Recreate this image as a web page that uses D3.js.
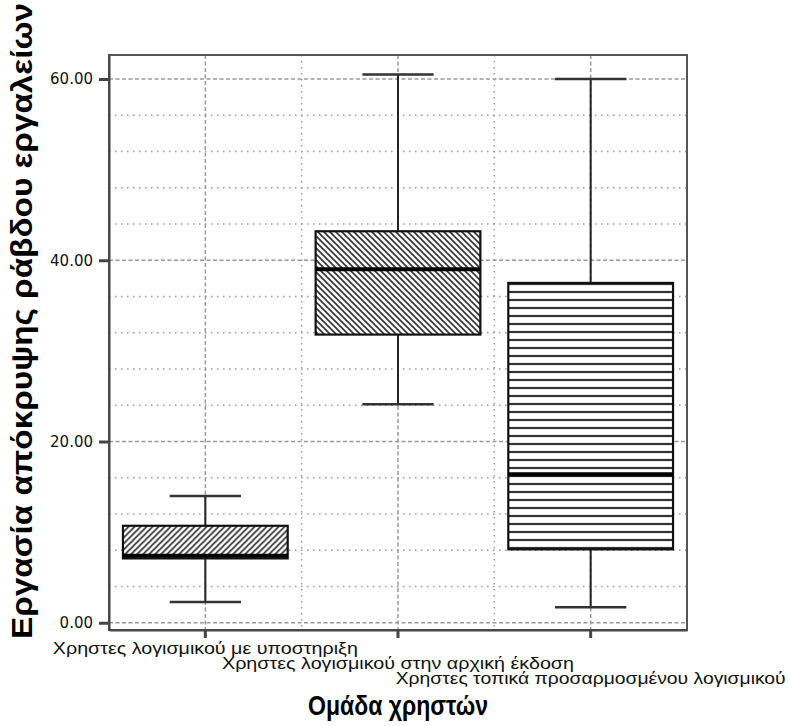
<!DOCTYPE html>
<html>
<head>
<meta charset="utf-8">
<script src="https://cdn.jsdelivr.net/npm/d3@7"></script>
<style>
  body { margin: 0; background: #fff; }
  svg { display: block; }
</style>
</head>
<body>
<svg id="chart" width="788" height="726"></svg>
<script>
// ---- data ----
const categories = [
  "Χρηστες λογισμικού με υποστηριξη",
  "Χρηστες λογισμικού στην αρχική έκδοση",
  "Χρηστες τοπικά προσαρμοσμένου λογισμικού"
];
const whiskerLow  = [2.3, 24.1, 1.7];
const q1          = [7.1, 31.8, 8.1];
const medians     = [7.4, 39.0, 16.4];
const q3          = [10.7, 43.2, 37.5];
const whiskerHigh = [14.0, 60.5, 60.0];
const hatches     = ["fwd", "back", "horiz"];
const yTicks      = [0, 20, 40, 60];
const yMinorTicks = [4, 8, 12, 16, 24, 28, 32, 36, 44, 48, 52, 56];
const yTitle = "Εργασία απόκρυψης ράβδου εργαλείων";
const xTitle = "Ομάδα χρηστών";

// ---- layout ----
const svg = d3.select("#chart");
const plot = { left: 109, right: 687, top: 55, bottom: 630 };

const x = d3.scaleBand().domain(categories).range([plot.left, plot.right]).paddingInner(0).paddingOuter(0);
const y = d3.scaleLinear().domain([-0.8, 62.65]).range([plot.bottom, plot.top]);

// patterns
const defs = svg.append("defs");
const pf = defs.append("pattern").attr("id", "fwd").attr("patternUnits", "userSpaceOnUse").attr("width", 6).attr("height", 6);
pf.append("rect").attr("width", 6).attr("height", 6).attr("fill", "#fff");
pf.append("path").attr("d", "M-1,7 L7,-1 M-2,2 L2,-2 M4,8 L8,4").attr("stroke", "#333").attr("stroke-width", 1.6);
const pb = defs.append("pattern").attr("id", "back").attr("patternUnits", "userSpaceOnUse").attr("width", 6).attr("height", 6);
pb.append("rect").attr("width", 6).attr("height", 6).attr("fill", "#fff");
pb.append("path").attr("d", "M-1,-1 L7,7 M-2,4 L2,8 M4,-2 L8,2").attr("stroke", "#333").attr("stroke-width", 1.6);
const ph = defs.append("pattern").attr("id", "horiz").attr("patternUnits", "userSpaceOnUse").attr("width", 8).attr("height", 8);
ph.append("rect").attr("width", 8).attr("height", 8).attr("fill", "#fff");
ph.append("line").attr("x1", 0).attr("x2", 8).attr("y1", 4).attr("y2", 4).attr("stroke", "#333").attr("stroke-width", 2.2);

// gridlines
const grid = svg.append("g");
grid.selectAll("line.hminor").data(yMinorTicks).join("line")
  .attr("x1", plot.left).attr("x2", plot.right)
  .attr("y1", d => y(d)).attr("y2", d => y(d))
  .attr("stroke", "#9a9a9a").attr("stroke-width", 1.5).attr("stroke-dasharray", "1.5,4.5");
grid.selectAll("line.hmajor").data(yTicks).join("line")
  .attr("x1", plot.left).attr("x2", plot.right)
  .attr("y1", d => y(d)).attr("y2", d => y(d))
  .attr("stroke", "#9a9a9a").attr("stroke-width", 1.5).attr("stroke-dasharray", "4,2.5");
grid.selectAll("line.vmajor").data(categories).join("line")
  .attr("x1", d => x(d) + x.bandwidth() / 2).attr("x2", d => x(d) + x.bandwidth() / 2)
  .attr("y1", plot.top).attr("y2", plot.bottom)
  .attr("stroke", "#9a9a9a").attr("stroke-width", 1.5).attr("stroke-dasharray", "4,2.5");
grid.selectAll("line.vminor").data(categories.slice(1)).join("line")
  .attr("x1", d => x(d)).attr("x2", d => x(d))
  .attr("y1", plot.top).attr("y2", plot.bottom)
  .attr("stroke", "#9a9a9a").attr("stroke-width", 1.5).attr("stroke-dasharray", "1.5,4.5");

// boxes
const boxW = x.bandwidth() * 0.855;
const capW = x.bandwidth() * 0.37;
const boxes = svg.append("g").selectAll("g").data(categories).join("g")
  .attr("transform", d => `translate(${x(d) + x.bandwidth() / 2},0)`);

boxes.append("line")
  .attr("x1", 0).attr("x2", 0)
  .attr("y1", (d, i) => y(whiskerLow[i])).attr("y2", (d, i) => y(q1[i]))
  .attr("stroke", "#222").attr("stroke-width", 2);
boxes.append("line")
  .attr("x1", 0).attr("x2", 0)
  .attr("y1", (d, i) => y(q3[i])).attr("y2", (d, i) => y(whiskerHigh[i]))
  .attr("stroke", "#222").attr("stroke-width", 2);
boxes.append("line")
  .attr("x1", -capW / 2).attr("x2", capW / 2)
  .attr("y1", (d, i) => y(whiskerLow[i])).attr("y2", (d, i) => y(whiskerLow[i]))
  .attr("stroke", "#333").attr("stroke-width", 2.5);
boxes.append("line")
  .attr("x1", -capW / 2).attr("x2", capW / 2)
  .attr("y1", (d, i) => y(whiskerHigh[i])).attr("y2", (d, i) => y(whiskerHigh[i]))
  .attr("stroke", "#333").attr("stroke-width", 2.5);
boxes.append("rect")
  .attr("x", -boxW / 2).attr("width", boxW)
  .attr("y", (d, i) => y(q3[i])).attr("height", (d, i) => y(q1[i]) - y(q3[i]))
  .attr("fill", (d, i) => `url(#${hatches[i]})`)
  .attr("stroke", "#111").attr("stroke-width", 2.2);
boxes.append("line")
  .attr("x1", -boxW / 2).attr("x2", boxW / 2)
  .attr("y1", (d, i) => y(medians[i])).attr("y2", (d, i) => y(medians[i]))
  .attr("stroke", "#000").attr("stroke-width", 4);

// frame
svg.append("rect")
  .attr("x", plot.left).attr("y", plot.top)
  .attr("width", plot.right - plot.left).attr("height", plot.bottom - plot.top)
  .attr("fill", "none").attr("stroke", "#555").attr("stroke-width", 2);

// y axis
const yAxis = svg.append("g").attr("transform", `translate(${plot.left},0)`)
  .call(d3.axisLeft(y).tickValues(yTicks).tickFormat(d3.format(".2f")).tickSize(10).tickSizeOuter(0).tickPadding(6));
yAxis.select(".domain").attr("stroke", "#444").attr("stroke-width", 2);
yAxis.selectAll(".tick line").attr("stroke", "#444").attr("stroke-width", 3);
yAxis.selectAll(".tick text").attr("font-family", "'DejaVu Sans', sans-serif")
  .attr("font-size", 15).attr("fill", "#111");

// x axis
const xAxis = svg.append("g").attr("transform", `translate(0,${plot.bottom})`)
  .call(d3.axisBottom(x).tickSize(8).tickSizeOuter(0).tickFormat(""));
xAxis.select(".domain").attr("stroke", "#444").attr("stroke-width", 2);
xAxis.selectAll(".tick line").attr("stroke", "#444").attr("stroke-width", 3);

const labelBase = [654, 669, 684];
const labelLen = [305, 352, 390];
svg.append("g").selectAll("text").data(categories).join("text")
  .attr("x", d => x(d) + x.bandwidth() / 2)
  .attr("y", (d, i) => labelBase[i])
  .attr("text-anchor", "middle")
  .attr("font-family", "'Liberation Sans', Arial, sans-serif")
  .attr("font-size", 16)
  .attr("fill", "#111")
  .attr("textLength", (d, i) => labelLen[i])
  .attr("lengthAdjust", "spacingAndGlyphs")
  .text(d => d);

// titles
svg.append("text")
  .attr("transform", `translate(32,321) rotate(-90)`)
  .attr("text-anchor", "middle")
  .attr("font-family", "'Liberation Sans', Arial, sans-serif")
  .attr("font-weight", "bold")
  .attr("font-size", 29)
  .attr("fill", "#000")
  .attr("textLength", 636)
  .attr("lengthAdjust", "spacingAndGlyphs")
  .text(yTitle);

svg.append("text")
  .attr("x", 398).attr("y", 715)
  .attr("text-anchor", "middle")
  .attr("font-family", "'Liberation Sans', Arial, sans-serif")
  .attr("font-weight", "bold")
  .attr("font-size", 27)
  .attr("fill", "#000")
  .attr("textLength", 180)
  .attr("lengthAdjust", "spacingAndGlyphs")
  .text(xTitle);
</script>
</body>
</html>
